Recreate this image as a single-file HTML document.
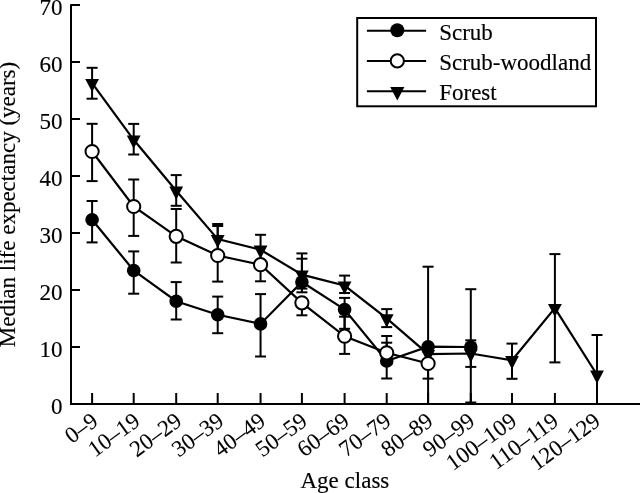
<!DOCTYPE html>
<html><head><meta charset="utf-8"><style>
html,body{margin:0;padding:0;background:#fff;}
body{width:640px;height:493px;overflow:hidden;font-family:"Liberation Serif",serif;}
svg{display:block;will-change:transform;}
text{stroke:#000;stroke-width:0.15px;}
.xl text{stroke-width:0.1px;}
</style></head><body>
<svg width="640" height="493" viewBox="0 0 640 493">
<g stroke="#000" stroke-width="2" fill="none">
<line x1="71" y1="4.2" x2="71" y2="405"/>
<line x1="70" y1="404" x2="640" y2="404"/>
<line x1="71" y1="404" x2="80" y2="404"/>
<line x1="71" y1="347" x2="80" y2="347"/>
<line x1="71" y1="290" x2="80" y2="290"/>
<line x1="71" y1="233" x2="80" y2="233"/>
<line x1="71" y1="176" x2="80" y2="176"/>
<line x1="71" y1="119" x2="80" y2="119"/>
<line x1="71" y1="62" x2="80" y2="62"/>
<line x1="71" y1="5" x2="80" y2="5"/>
<line x1="92.1" y1="393" x2="92.1" y2="404"/>
<line x1="133.7" y1="393" x2="133.7" y2="404"/>
<line x1="176.2" y1="393" x2="176.2" y2="404"/>
<line x1="217.7" y1="393" x2="217.7" y2="404"/>
<line x1="260.55" y1="393" x2="260.55" y2="404"/>
<line x1="301.9" y1="393" x2="301.9" y2="404"/>
<line x1="344.6" y1="393" x2="344.6" y2="404"/>
<line x1="386.7" y1="393" x2="386.7" y2="404"/>
<line x1="428.1" y1="393" x2="428.1" y2="404"/>
<line x1="470.8" y1="393" x2="470.8" y2="404"/>
<line x1="512" y1="393" x2="512" y2="404"/>
<line x1="554.9" y1="393" x2="554.9" y2="404"/>
<line x1="597" y1="393" x2="597" y2="404"/>
</g>
<g font-family="Liberation Serif" font-size="23" text-anchor="end" fill="#000">
<text x="62.5" y="413.6">0</text>
<text x="62.5" y="356.6">10</text>
<text x="62.5" y="299.6">20</text>
<text x="62.5" y="242.6">30</text>
<text x="62.5" y="185.6">40</text>
<text x="62.5" y="128.6">50</text>
<text x="62.5" y="71.6">60</text>
<text x="62.5" y="14.6">70</text>
</g>
<g font-family="Liberation Serif" font-size="23" text-anchor="end" fill="#000" class="xl">
<text transform="translate(99.6,423.9) rotate(-36)">0–9</text>
<text transform="translate(141.46,423.9) rotate(-36)">10–19</text>
<text transform="translate(183.32,423.9) rotate(-36)">20–29</text>
<text transform="translate(225.18,423.9) rotate(-36)">30–39</text>
<text transform="translate(267.04,423.9) rotate(-36)">40–49</text>
<text transform="translate(308.9,423.9) rotate(-36)">50–59</text>
<text transform="translate(350.76,423.9) rotate(-36)">60–69</text>
<text transform="translate(392.62,423.9) rotate(-36)">70–79</text>
<text transform="translate(434.48,423.9) rotate(-36)">80–89</text>
<text transform="translate(476.34,423.9) rotate(-36)">90–99</text>
<text transform="translate(518.2,423.9) rotate(-36)">100–109</text>
<text transform="translate(560.06,423.9) rotate(-36)">110–119</text>
<text transform="translate(601.92,423.9) rotate(-36)">120–129</text>
</g>
<text x="300.5" y="488" font-family="Liberation Serif" font-size="23">Age class</text>
<text transform="translate(15.4,347.2) rotate(-90)" font-family="Liberation Serif" font-size="23">Median life expectancy (years)</text>
<g stroke="#000" stroke-width="2" fill="none">
<line x1="92.1" y1="201" x2="92.1" y2="242.4"/>
<line x1="86.6" y1="201" x2="97.6" y2="201"/>
<line x1="86.6" y1="242.4" x2="97.6" y2="242.4"/>
<line x1="133.7" y1="251.4" x2="133.7" y2="293.7"/>
<line x1="128.2" y1="251.4" x2="139.2" y2="251.4"/>
<line x1="128.2" y1="293.7" x2="139.2" y2="293.7"/>
<line x1="176.2" y1="282.1" x2="176.2" y2="319.5"/>
<line x1="170.7" y1="282.1" x2="181.7" y2="282.1"/>
<line x1="170.7" y1="319.5" x2="181.7" y2="319.5"/>
<line x1="217.7" y1="296.6" x2="217.7" y2="333.2"/>
<line x1="212.2" y1="296.6" x2="223.2" y2="296.6"/>
<line x1="212.2" y1="333.2" x2="223.2" y2="333.2"/>
<line x1="260.55" y1="294.1" x2="260.55" y2="356.5"/>
<line x1="255.05" y1="294.1" x2="266.05" y2="294.1"/>
<line x1="255.05" y1="356.5" x2="266.05" y2="356.5"/>
<line x1="301.9" y1="253.4" x2="301.9" y2="292.3"/>
<line x1="296.4" y1="253.4" x2="307.4" y2="253.4"/>
<line x1="296.4" y1="292.3" x2="307.4" y2="292.3"/>
<line x1="344.6" y1="297.9" x2="344.6" y2="328.8"/>
<line x1="339.1" y1="297.9" x2="350.1" y2="297.9"/>
<line x1="339.1" y1="328.8" x2="350.1" y2="328.8"/>
<line x1="386.7" y1="342.7" x2="386.7" y2="378.5"/>
<line x1="381.2" y1="342.7" x2="392.2" y2="342.7"/>
<line x1="381.2" y1="378.5" x2="392.2" y2="378.5"/>
<line x1="428.1" y1="266.7" x2="428.1" y2="404"/>
<line x1="422.6" y1="266.7" x2="433.6" y2="266.7"/>
<line x1="470.8" y1="289.2" x2="470.8" y2="402.5"/>
<line x1="465.3" y1="289.2" x2="476.3" y2="289.2"/>
<line x1="465.3" y1="402.5" x2="476.3" y2="402.5"/>
<polyline points="92.1,219.8 133.7,270.5 176.2,301.2 217.7,314.8 260.55,323.9 301.9,282 344.6,309.5 386.7,361 428.1,346.7 470.8,347" fill="none" stroke-width="2.2"/>
</g>
<g fill="#000"><circle cx="92.1" cy="219.8" r="6.8"/><circle cx="133.7" cy="270.5" r="6.8"/><circle cx="176.2" cy="301.2" r="6.8"/><circle cx="217.7" cy="314.8" r="6.8"/><circle cx="260.55" cy="323.9" r="6.8"/><circle cx="301.9" cy="282" r="6.8"/><circle cx="344.6" cy="309.5" r="6.8"/><circle cx="386.7" cy="361" r="6.8"/><circle cx="428.1" cy="346.7" r="6.8"/><circle cx="470.8" cy="347" r="6.8"/></g>
<g stroke="#000" stroke-width="2" fill="none">
<line x1="92.1" y1="67.8" x2="92.1" y2="98.7"/>
<line x1="86.6" y1="67.8" x2="97.6" y2="67.8"/>
<line x1="86.6" y1="98.7" x2="97.6" y2="98.7"/>
<line x1="133.7" y1="123.9" x2="133.7" y2="154.5"/>
<line x1="128.2" y1="123.9" x2="139.2" y2="123.9"/>
<line x1="128.2" y1="154.5" x2="139.2" y2="154.5"/>
<line x1="176.2" y1="175.1" x2="176.2" y2="205.8"/>
<line x1="170.7" y1="175.1" x2="181.7" y2="175.1"/>
<line x1="170.7" y1="205.8" x2="181.7" y2="205.8"/>
<line x1="217.7" y1="224" x2="217.7" y2="252"/>
<line x1="212.2" y1="224" x2="223.2" y2="224"/>
<line x1="212.2" y1="252" x2="223.2" y2="252"/>
<line x1="260.55" y1="234.8" x2="260.55" y2="262"/>
<line x1="255.05" y1="234.8" x2="266.05" y2="234.8"/>
<line x1="255.05" y1="262" x2="266.05" y2="262"/>
<line x1="301.9" y1="258.7" x2="301.9" y2="288.6"/>
<line x1="296.4" y1="258.7" x2="307.4" y2="258.7"/>
<line x1="296.4" y1="288.6" x2="307.4" y2="288.6"/>
<line x1="344.6" y1="275.6" x2="344.6" y2="293"/>
<line x1="339.1" y1="275.6" x2="350.1" y2="275.6"/>
<line x1="339.1" y1="293" x2="350.1" y2="293"/>
<line x1="386.7" y1="309.1" x2="386.7" y2="327.1"/>
<line x1="381.2" y1="309.1" x2="392.2" y2="309.1"/>
<line x1="381.2" y1="327.1" x2="392.2" y2="327.1"/>
<line x1="428.1" y1="345" x2="428.1" y2="352"/>
<line x1="422.6" y1="345" x2="433.6" y2="345"/>
<line x1="422.6" y1="352" x2="433.6" y2="352"/>
<line x1="470.8" y1="340.3" x2="470.8" y2="366.9"/>
<line x1="465.3" y1="340.3" x2="476.3" y2="340.3"/>
<line x1="465.3" y1="366.9" x2="476.3" y2="366.9"/>
<line x1="512" y1="343.6" x2="512" y2="378.8"/>
<line x1="506.5" y1="343.6" x2="517.5" y2="343.6"/>
<line x1="506.5" y1="378.8" x2="517.5" y2="378.8"/>
<line x1="554.9" y1="254.1" x2="554.9" y2="362.4"/>
<line x1="549.4" y1="254.1" x2="560.4" y2="254.1"/>
<line x1="549.4" y1="362.4" x2="560.4" y2="362.4"/>
<line x1="597" y1="335" x2="597" y2="404"/>
<line x1="591.5" y1="335" x2="602.5" y2="335"/>
<polyline points="92.1,83.1 133.7,139.8 176.2,190.7 217.7,239.1 260.55,249.8 301.9,274.6 344.6,285.6 386.7,318.4 428.1,354.2 470.8,353.5 512,360.3 554.9,308.1 597,374.8" fill="none" stroke-width="2.2"/>
</g>
<g fill="#000"><polygon points="85.2,78.9 99,78.9 92.1,92.1"/><polygon points="126.8,135.6 140.6,135.6 133.7,148.8"/><polygon points="169.3,186.5 183.1,186.5 176.2,199.7"/><polygon points="210.8,234.9 224.6,234.9 217.7,248.1"/><polygon points="253.65,245.6 267.45,245.6 260.55,258.8"/><polygon points="295,270.4 308.8,270.4 301.9,283.6"/><polygon points="337.7,281.4 351.5,281.4 344.6,294.6"/><polygon points="379.8,314.2 393.6,314.2 386.7,327.4"/><polygon points="421.2,350 435,350 428.1,363.2"/><polygon points="463.9,349.3 477.7,349.3 470.8,362.5"/><polygon points="505.1,356.1 518.9,356.1 512,369.3"/><polygon points="548,303.9 561.8,303.9 554.9,317.1"/><polygon points="590.1,370.6 603.9,370.6 597,383.8"/></g>
<g stroke="#000" stroke-width="2" fill="none">
<line x1="92.1" y1="123.8" x2="92.1" y2="181.1"/>
<line x1="86.6" y1="123.8" x2="97.6" y2="123.8"/>
<line x1="86.6" y1="181.1" x2="97.6" y2="181.1"/>
<line x1="133.7" y1="179.5" x2="133.7" y2="235.9"/>
<line x1="128.2" y1="179.5" x2="139.2" y2="179.5"/>
<line x1="128.2" y1="235.9" x2="139.2" y2="235.9"/>
<line x1="176.2" y1="209" x2="176.2" y2="262.5"/>
<line x1="170.7" y1="209" x2="181.7" y2="209"/>
<line x1="170.7" y1="262.5" x2="181.7" y2="262.5"/>
<line x1="217.7" y1="226" x2="217.7" y2="281.6"/>
<line x1="212.2" y1="226" x2="223.2" y2="226"/>
<line x1="212.2" y1="281.6" x2="223.2" y2="281.6"/>
<line x1="260.55" y1="261" x2="260.55" y2="281.3"/>
<line x1="255.05" y1="261" x2="266.05" y2="261"/>
<line x1="255.05" y1="281.3" x2="266.05" y2="281.3"/>
<line x1="301.9" y1="299.5" x2="301.9" y2="315.3"/>
<line x1="296.4" y1="299.5" x2="307.4" y2="299.5"/>
<line x1="296.4" y1="315.3" x2="307.4" y2="315.3"/>
<line x1="344.6" y1="316.7" x2="344.6" y2="353.9"/>
<line x1="339.1" y1="316.7" x2="350.1" y2="316.7"/>
<line x1="339.1" y1="353.9" x2="350.1" y2="353.9"/>
<line x1="386.7" y1="336" x2="386.7" y2="364"/>
<line x1="381.2" y1="336" x2="392.2" y2="336"/>
<line x1="381.2" y1="364" x2="392.2" y2="364"/>
<line x1="428.1" y1="360" x2="428.1" y2="378.6"/>
<line x1="422.6" y1="360" x2="433.6" y2="360"/>
<line x1="422.6" y1="378.6" x2="433.6" y2="378.6"/>
<polyline points="92.1,151.5 133.7,206.5 176.2,236.3 217.7,255.5 260.55,264.7 301.9,302.8 344.6,336.2 386.7,352.8 428.1,363.5" fill="none" stroke-width="2.2"/>
</g>
<g fill="#fff" stroke="#000" stroke-width="2"><circle cx="92.1" cy="151.5" r="6.6"/><circle cx="133.7" cy="206.5" r="6.6"/><circle cx="176.2" cy="236.3" r="6.6"/><circle cx="217.7" cy="255.5" r="6.6"/><circle cx="260.55" cy="264.7" r="6.6"/><circle cx="301.9" cy="302.8" r="6.6"/><circle cx="344.6" cy="336.2" r="6.6"/><circle cx="386.7" cy="352.8" r="6.6"/><circle cx="428.1" cy="363.5" r="6.6"/></g>
<rect x="357.2" y="18" width="238.8" height="88.3" fill="#fff" stroke="#000" stroke-width="2"/>
<g stroke="#000" stroke-width="2">
<line x1="366.9" y1="30.8" x2="426.1" y2="30.8"/>
<line x1="366.9" y1="60.9" x2="426.1" y2="60.9"/>
<line x1="366.9" y1="91.3" x2="426.1" y2="91.3"/>
</g>
<circle cx="397.3" cy="30.2" r="7" fill="#000"/>
<circle cx="397.3" cy="60.9" r="6.6" fill="#fff" stroke="#000" stroke-width="2"/>
<polygon fill="#000" points="390.2,87.1 404.40000000000003,87.1 397.3,100.5"/>
<g font-family="Liberation Serif" font-size="23" fill="#000">
<text x="439.2" y="39.6">Scrub</text>
<text x="439.2" y="69.7">Scrub-woodland</text>
<text x="439.2" y="100.1">Forest</text>
</g>
</svg>
</body></html>
